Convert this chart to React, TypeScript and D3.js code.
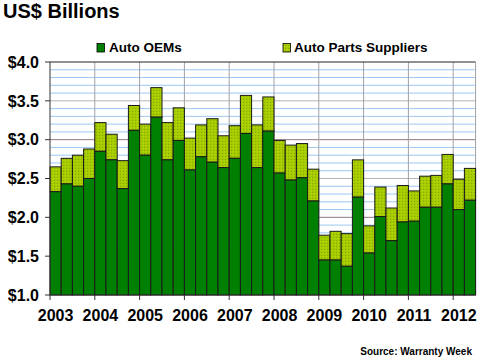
import * as d3 from 'd3';

// quarterly warranty claims, US$ billions
const years = [2003, 2004, 2005, 2006, 2007, 2008, 2009, 2010, 2011, 2012];
const quarters = years.flatMap((y) =>
  (y === 2012 ? [1, 2] : [1, 2, 3, 4]).map((q) => `${y}Q${q}`)
);
const oemValues = [
  2.33, 2.43, 2.4, 2.5, 2.85, 2.74, 2.37, 3.12, 2.8, 3.29, 2.74, 2.99, 2.61, 2.78, 2.71, 2.64,
  2.76, 3.08, 2.64, 3.11, 2.57, 2.48, 2.51, 2.21, 1.45, 1.45, 1.37, 2.26, 1.54, 2.01, 1.7, 1.94,
  1.95, 2.13, 2.13, 2.43, 2.1, 2.22,
];
const supplierValues = [
  0.32, 0.33, 0.4, 0.38, 0.37, 0.33, 0.36, 0.32, 0.4, 0.38, 0.48, 0.42, 0.41, 0.41, 0.56, 0.41,
  0.42, 0.49, 0.55, 0.44, 0.42, 0.45, 0.44, 0.41, 0.32, 0.37, 0.42, 0.48, 0.35, 0.38, 0.42, 0.47,
  0.39, 0.4, 0.41, 0.38, 0.39, 0.41,
];
const yTicks = [1, 1.5, 2, 2.5, 3, 3.5, 4];
const seriesNames = ['Auto OEMs', 'Auto Parts Suppliers'];

const W = 480;
const H = 361;
const MARGIN = { top: 62, right: 4.4, bottom: 66, left: 50 };
const FONT = '"Liberation Sans", Arial, sans-serif';
const DARK = '#008000';
const LIGHT = '#a4cc00';

export default function App() {
  const x = d3
    .scaleBand<string>()
    .domain(quarters)
    .range([MARGIN.left, W - MARGIN.right])
    .padding(0);
  const y = d3.scaleLinear().domain([1, 4]).range([H - MARGIN.bottom, MARGIN.top]);
  const minorTicks = d3.range(1.1, 4, 0.1).filter((v) => Math.abs(v * 2 - Math.round(v * 2)) > 0.01);

  const rows = quarters.map((q, i) => ({
    q,
    oem: oemValues[i],
    total: oemValues[i] + supplierValues[i],
  }));

  const x0 = MARGIN.left;
  const x1 = W - MARGIN.right;
  const yBottom = y(1);

  return (
    <div style={{ position: 'absolute', left: 0, top: 0 }}>
      <svg width={W} height={H} style={{ display: 'block', background: '#fff' }} fontFamily={FONT}>
        <defs>
          <pattern id="lightDots" width={3} height={3} patternUnits="userSpaceOnUse">
            <rect width={3} height={3} fill={LIGHT} />
            <rect x={0} y={0} width={1} height={1} fill="#8aa800" />
            <rect x={2} y={1} width={1} height={1} fill="#b8d800" />
          </pattern>
        </defs>

        <text x={3} y={18} fontSize={20} fontWeight="bold" fill="#000">
          US$ Billions
        </text>

        {/* legend */}
        <rect x={97} y={43.5} width={7.5} height={8.5} fill={DARK} stroke="#000" strokeWidth={0.8} />
        <text x={109} y={52} fontSize={13.5} fontWeight="bold">
          {seriesNames[0]}
        </text>
        <rect x={283} y={43.5} width={7.5} height={8.5} fill="url(#lightDots)" stroke="#000" strokeWidth={0.8} />
        <text x={294} y={52} fontSize={13.5} fontWeight="bold">
          {seriesNames[1]}
        </text>

        {/* grid */}
        {minorTicks.map((v) => (
          <line key={v} x1={x0} x2={x1} y1={y(v)} y2={y(v)} stroke="#9cc8f4" strokeWidth={1} />
        ))}
        {yTicks.slice(1, -1).map((v) => (
          <line
            key={v}
            x1={x0}
            x2={x1}
            y1={y(v)}
            y2={y(v)}
            stroke={Number.isInteger(v) ? '#8c7884' : '#b4b4b4'}
            strokeWidth={1}
          />
        ))}
        {years.slice(1).map((yr) => (
          <line
            key={yr}
            x1={x(`${yr}Q1`)}
            x2={x(`${yr}Q1`)}
            y1={MARGIN.top}
            y2={yBottom}
            stroke="#a0a0a0"
            strokeWidth={1}
          />
        ))}
        <line x1={x0} x2={x1} y1={y(4)} y2={y(4)} stroke="#222" strokeWidth={1} />
        <line x1={x1} x2={x1} y1={y(4)} y2={yBottom} stroke="#a0a0a0" strokeWidth={1} />

        {/* bars */}
        {rows.map((d) => (
          <g key={d.q}>
            <rect
              x={x(d.q)}
              y={y(d.total)}
              width={x.bandwidth()}
              height={y(d.oem) - y(d.total)}
              fill="url(#lightDots)"
              stroke="#1a1a1a"
              strokeWidth={1}
            />
            <rect
              x={x(d.q)}
              y={y(d.oem)}
              width={x.bandwidth()}
              height={yBottom - y(d.oem)}
              fill={DARK}
              stroke="#1a1a1a"
              strokeWidth={1}
            />
          </g>
        ))}

        {/* axes */}
        <line x1={x0} x2={x0} y1={y(4)} y2={yBottom} stroke="#333" strokeWidth={1} />
        <line x1={x0} x2={x1} y1={yBottom} y2={yBottom} stroke="#333" strokeWidth={1} />
        {yTicks.map((v) => (
          <g key={v}>
            <line x1={x0 - 5} x2={x0} y1={y(v)} y2={y(v)} stroke="#333" />
            <text
              x={39}
              y={y(v)}
              dy="0.36em"
              textAnchor="end"
              fontSize={16}
              fontWeight="bold"
            >
              {`$${v.toFixed(1)}`}
            </text>
          </g>
        ))}
        {years.map((yr) => {
          const xq = x(`${yr}Q1`) ?? 0;
          return (
            <g key={yr}>
              <line x1={xq} x2={xq} y1={yBottom} y2={yBottom + 5} stroke="#333" />
              <text
                x={xq + x.bandwidth() / 2}
                y={321}
                textAnchor="middle"
                fontSize={16}
                fontWeight="bold"
              >
                {yr}
              </text>
            </g>
          );
        })}

        <text x={472} y={355} textAnchor="end" fontSize={10} fontWeight="bold">
          Source: Warranty Week
        </text>
      </svg>
    </div>
  );
}
